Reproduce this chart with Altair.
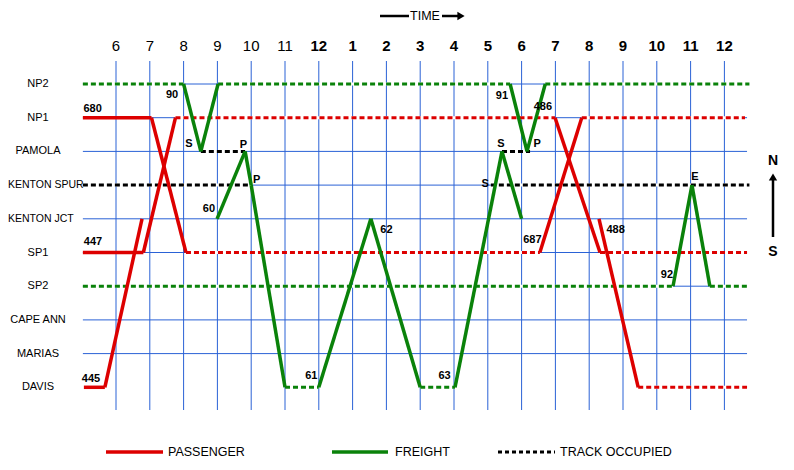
import altair as alt
import pandas as pd

# ---------------- data ----------------
STATIONS = ["NP2", "NP1", "PAMOLA", "KENTON SPUR", "KENTON JCT",
            "SP1", "SP2", "CAPE ANN", "MARIAS", "DAVIS"]
GRID_STATIONS = STATIONS[:-1]          # DAVIS has no grid line
HOURS = list(range(6, 25))
HOUR_LABELS = ["6", "7", "8", "9", "10", "11", "12", "1", "2", "3", "4",
               "5", "6", "7", "8", "9", "10", "11", "12"]
GRID_START, GRID_END = 5.02, 24.67

# (train, start time, from station, end time, to station)
PASSENGER_RUNS = [
    ("680", 5.02, "NP1", 7.05, "NP1"),
    ("680", 7.05, "NP1", 8.07, "SP1"),
    ("447", 5.02, "SP1", 6.81, "SP1"),
    ("447", 6.81, "SP1", 7.76, "NP1"),
    ("445", 5.05, "DAVIS", 5.67, "DAVIS"),
    ("445", 5.67, "DAVIS", 6.77, "KENTON JCT"),
    ("687", 18.54, "SP1", 19.78, "NP1"),
    ("486", 18.99, "NP1", 20.32, "SP1"),
    ("488", 20.29, "KENTON JCT", 21.45, "DAVIS"),
]
FREIGHT_RUNS = [
    ("90", 8.00, "NP2", 8.51, "PAMOLA"),
    ("90", 8.51, "PAMOLA", 9.02, "NP2"),
    ("60", 8.99, "KENTON JCT", 9.82, "PAMOLA"),
    ("60", 9.82, "PAMOLA", 10.0, "KENTON SPUR"),
    ("60", 10.0, "KENTON SPUR", 11.0, "DAVIS"),
    ("61", 12.0, "DAVIS", 13.54, "KENTON JCT"),
    ("62", 13.54, "KENTON JCT", 15.0, "DAVIS"),
    ("63", 16.03, "DAVIS", 17.42, "PAMOLA"),
    ("63", 17.42, "PAMOLA", 18.0, "KENTON JCT"),
    ("91", 17.66, "NP2", 18.16, "PAMOLA"),
    ("91", 18.16, "PAMOLA", 18.70, "NP2"),
    ("92", 22.48, "SP2", 23.04, "KENTON SPUR"),
    ("92", 23.04, "KENTON SPUR", 23.57, "SP2"),
]
# (kind, station, from time, to time)   P=passenger F=freight T=track occupied
OCCUPIED = [
    ("F", "NP2", 5.02, 8.00), ("F", "NP2", 9.02, 17.66), ("F", "NP2", 18.70, 24.74),
    ("F", "SP2", 5.02, 22.48), ("F", "SP2", 23.57, 24.70),
    ("F", "DAVIS", 11.0, 12.0), ("F", "DAVIS", 15.0, 16.03),
    ("P", "NP1", 7.76, 18.99), ("P", "NP1", 19.78, 24.61),
    ("P", "SP1", 8.07, 18.54), ("P", "SP1", 20.32, 24.67),
    ("P", "DAVIS", 21.45, 24.67),
    ("T", "KENTON SPUR", 5.02, 10.0), ("T", "KENTON SPUR", 17.09, 24.74),
    ("T", "PAMOLA", 8.51, 9.82), ("T", "PAMOLA", 17.42, 18.25),
]
# (text, time, station position)
TRAIN_LABELS = [
    ("680", 5.31, 0.74), ("90", 7.66, 0.33), ("S", 8.16, 1.78), ("P", 9.77, 1.81),
    ("P", 10.16, 2.85), ("60", 8.75, 3.71), ("447", 5.32, 4.69), ("445", 5.26, 8.75),
    ("61", 11.78, 8.66), ("62", 14.0, 4.33), ("63", 15.72, 8.66), ("S", 16.92, 2.97),
    ("S", 17.39, 1.78), ("P", 18.46, 1.78), ("91", 17.42, 0.36), ("486", 18.63, 0.68),
    ("687", 18.32, 4.63), ("488", 20.78, 4.33), ("92", 22.30, 5.67), ("E", 23.13, 2.76),
]

# ---------------- layout / style ----------------
W, H = 778, 454
PX_H = 33.8            # px per hour
X6 = 108               # svg x of 6 AM
PX_S = 33.7            # px per station
Y_TOP = 76             # svg y of NP2
RED, GREEN, BLACK, BLUE = "#dd0000", "#0a820a", "#000000", "#2a62d6"
FONT = "Liberation Sans"

xs = alt.Scale(domain=[6 - X6 / PX_H, 6 + (W - X6) / PX_H], nice=False, zero=False)
ys = alt.Scale(domain=[-Y_TOP / PX_S, (H - Y_TOP) / PX_S], nice=False, zero=False, reverse=True)
cs = alt.Scale(domain=["P", "F", "T"], range=[RED, GREEN, BLACK])
idx = {s: i for i, s in enumerate(STATIONS)}

runs = pd.DataFrame(
    [dict(train=r[0], t1=r[1], s1=idx[r[2]], t2=r[3], s2=idx[r[4]], kind="P") for r in PASSENGER_RUNS]
    + [dict(train=r[0], t1=r[1], s1=idx[r[2]], t2=r[3], s2=idx[r[4]], kind="F") for r in FREIGHT_RUNS]
)
occ = pd.DataFrame([dict(kind=k, s=idx[s], t1=a, t2=b) for k, s, a, b in OCCUPIED])
gridh = pd.DataFrame([dict(s=idx[s], t1=GRID_START, t2=GRID_END) for s in GRID_STATIONS])
hours = pd.DataFrame({"h": HOURS, "label": HOUR_LABELS})
stations = pd.DataFrame({"s": list(range(len(STATIONS))), "name": STATIONS})
tlabels = pd.DataFrame([dict(text=a, t=b, s=c) for a, b, c in TRAIN_LABELS])
one = pd.DataFrame({"k": [0]})

vgrid = alt.Chart(hours).mark_rule(color=BLUE, strokeWidth=1).encode(
    x=alt.X("h:Q", scale=xs, axis=None), y=alt.value(53), y2=alt.value(402))
hgrid = alt.Chart(gridh).mark_rule(color=BLUE, strokeWidth=1).encode(
    x=alt.X("t1:Q", scale=xs, axis=None), x2="t2:Q", y=alt.Y("s:Q", scale=ys, axis=None))
occ_bg = alt.Chart(occ).mark_rule(color="white", strokeWidth=3).encode(
    x=alt.X("t1:Q", scale=xs, axis=None), x2="t2:Q", y=alt.Y("s:Q", scale=ys, axis=None))
occ_fg = alt.Chart(occ).mark_rule(strokeWidth=3, strokeDash=[5, 3]).encode(
    x=alt.X("t1:Q", scale=xs, axis=None), x2="t2:Q", y=alt.Y("s:Q", scale=ys, axis=None),
    color=alt.Color("kind:N", scale=cs, legend=None))
trains = alt.Chart(runs).mark_rule(strokeWidth=3.5).encode(
    x=alt.X("t1:Q", scale=xs, axis=None), x2="t2:Q",
    y=alt.Y("s1:Q", scale=ys, axis=None), y2="s2:Q",
    color=alt.Color("kind:N", scale=cs, legend=None))

hour_am = alt.Chart(hours).transform_filter("datum.h < 12").mark_text(
    font=FONT, fontSize=15, color="black", baseline="middle").encode(
    x=alt.X("h:Q", scale=xs, axis=None), y=alt.value(38), text="label:N")
hour_pm = alt.Chart(hours).transform_filter("datum.h >= 12").mark_text(
    font=FONT, fontSize=15, fontWeight="bold", color="black", baseline="middle").encode(
    x=alt.X("h:Q", scale=xs, axis=None), y=alt.value(38), text="label:N")
st_short = alt.Chart(stations).transform_filter("length(datum.name) <= 8").mark_text(
    font=FONT, fontSize=11, color="black", baseline="middle", align="center").encode(
    x=alt.value(30), y=alt.Y("s:Q", scale=ys, axis=None), text="name:N")
st_long = alt.Chart(stations).transform_filter("length(datum.name) > 8").mark_text(
    font=FONT, fontSize=10.5, color="black", baseline="middle", align="left").encode(
    x=alt.value(0), y=alt.Y("s:Q", scale=ys, axis=None), text="name:N")
tr_labels = alt.Chart(tlabels).mark_text(
    font=FONT, fontSize=11, fontWeight="bold", color="black", baseline="middle").encode(
    x=alt.X("t:Q", scale=xs, axis=None), y=alt.Y("s:Q", scale=ys, axis=None), text="text:N")

# TIME header arrow
time_l = alt.Chart(one).mark_rule(color="black", strokeWidth=2.5).encode(
    x=alt.value(372), x2=alt.value(401), y=alt.value(8))
time_t = alt.Chart(one).mark_text(text="TIME", font=FONT, fontSize=12.5, baseline="middle").encode(
    x=alt.value(417), y=alt.value(8))
time_r = alt.Chart(one).mark_rule(color="black", strokeWidth=2.5).encode(
    x=alt.value(434), x2=alt.value(452), y=alt.value(8))
time_h = alt.Chart(one).mark_point(shape="triangle-right", filled=True, color="black",
                                   size=70, opacity=1).encode(x=alt.value(453), y=alt.value(8))
# N / S arrow
n_t = alt.Chart(one).mark_text(text="N", font=FONT, fontSize=14, fontWeight="bold",
                               baseline="middle").encode(x=alt.value(765), y=alt.value(153))
s_t = alt.Chart(one).mark_text(text="S", font=FONT, fontSize=14, fontWeight="bold",
                               baseline="middle").encode(x=alt.value(765), y=alt.value(244))
ns_l = alt.Chart(one).mark_rule(color="black", strokeWidth=2.5).encode(
    x=alt.value(765), y=alt.value(172), y2=alt.value(229))
ns_h = alt.Chart(one).mark_point(shape="triangle-up", filled=True, color="black",
                                 size=70, opacity=1).encode(x=alt.value(765), y=alt.value(169))

# legend
def leg_line(x1, x2, color, dash=None):
    kw = dict(color=color, strokeWidth=3.5)
    if dash:
        kw = dict(color=color, strokeWidth=3, strokeDash=dash)
    return alt.Chart(one).mark_rule(**kw).encode(x=alt.value(x1), x2=alt.value(x2), y=alt.value(444))

def leg_text(x, label):
    return alt.Chart(one).mark_text(text=label, font=FONT, fontSize=12.5, align="left",
                                    baseline="middle").encode(x=alt.value(x), y=alt.value(444))

legend = [
    leg_line(98, 155, RED), leg_text(160, "PASSENGER"),
    leg_line(324, 380, GREEN), leg_text(387, "FREIGHT"),
    leg_line(490, 547, BLACK, [4, 3]), leg_text(552, "TRACK OCCUPIED"),
]

chart = alt.layer(
    vgrid, hgrid, occ_bg, occ_fg, trains, hour_am, hour_pm, st_short, st_long, tr_labels,
    time_l, time_t, time_r, time_h, n_t, s_t, ns_l, ns_h, *legend
).properties(
    width=W, height=H, autosize=alt.AutoSizeParams(type="none"), padding=0
).configure_view(stroke=None)

chart.save("out.html", embed_options={"renderer": "svg", "actions": False})
